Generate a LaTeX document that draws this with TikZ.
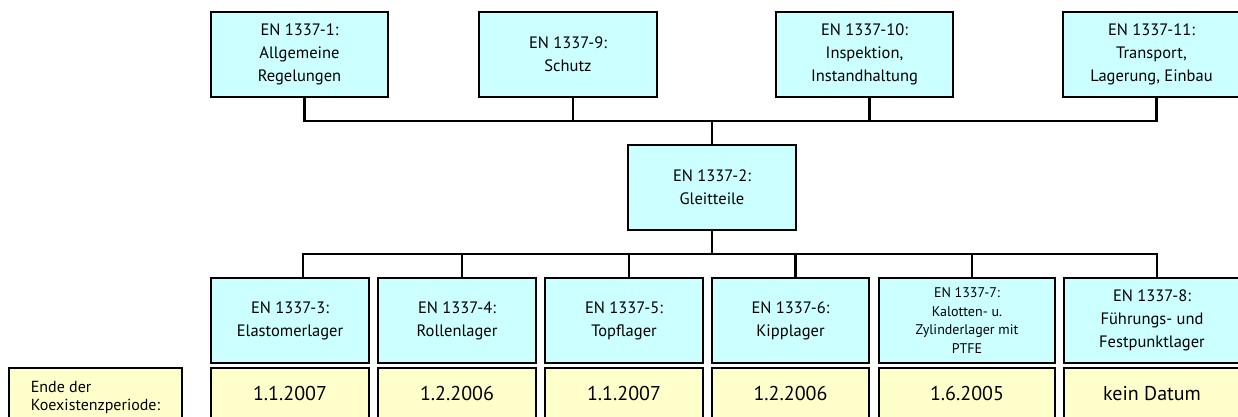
\documentclass[tikz,border=0pt]{standalone}
\usepackage{fontspec}
\setmainfont{PT Sans}

\definecolor{partblue}{HTML}{CCFFFF}
\definecolor{dateyellow}{HTML}{FFFFCC}

\tikzset{
  partbox/.style={draw=black,line width=2.8pt,fill=partblue,align=center,
    inner sep=0pt,minimum height=85pt,font=\fontsize{16.5}{23}\selectfont},
  datebox/.style={draw=black,line width=2.8pt,fill=dateyellow,inner sep=0pt,
    text height=32pt,text depth=26pt,font=\fontsize{20}{24}\selectfont},
  conn/.style={line width=2.8pt}
}

\begin{document}
\begin{tikzpicture}[x=1pt,y=-1pt]
        \useasboundingbox (0,0) rectangle (1238,417) ;
        % obere Reihe
        \node[partbox,minimum width=177pt] (p1) at (299.5,54.5)
          {EN 1337-1:\\Allgemeine\\Regelungen} ;
        \node[partbox,minimum width=178pt] (p9) at (568,54.5)
          {EN 1337-9:\\Schutz} ;
        \node[partbox,minimum width=177pt] (p10) at (864.5,54.5)
          {EN 1337-10:\\Inspektion,\\Instandhaltung} ;
        \node[partbox,minimum width=177pt] (p11) at (1151.5,54.5)
          {EN 1337-11:\\Transport,\\Lagerung, Einbau} ;
        % Mitte
        \node[partbox,minimum width=168pt] (p2) at (712,187.5)
          {EN 1337-2:\\Gleitteile} ;
        % untere Reihe
        \node[partbox,minimum width=158pt] (p3) at (290,320.5)
          {EN 1337-3:\\Elastomerlager} ;
        \node[partbox,minimum width=158pt] (p4) at (457,320.5)
          {EN 1337-4:\\Rollenlager} ;
        \node[partbox,minimum width=158pt] (p5) at (624,320.5)
          {EN 1337-5:\\Topflager} ;
        \node[partbox,minimum width=157pt] (p6) at (790.5,320.5)
          {EN 1337-6:\\Kipplager} ;
        \node[partbox,minimum width=176pt,font=\fontsize{14}{18.5}\selectfont]
          (p7) at (967,320.5)
          {EN 1337-7:\\Kalotten- u.\\Zylinderlager mit\\PTFE} ;
        \node[partbox,minimum width=176pt] (p8) at (1152,320.5)
          {EN 1337-8:\\Führungs- und\\Festpunktlager} ;
        % Koexistenzperiode
        \node[datebox,minimum width=173pt,align=left,text height=,text depth=,
          minimum height=58pt,font=\fontsize{16}{18}\selectfont]
          (ende) at (95.5,397) {Ende der\\Koexistenzperiode:} ;
        \node[datebox,minimum width=158pt] (d3) at (290,397) {1.1.2007} ;
        \node[datebox,minimum width=158pt] (d4) at (457,397) {1.2.2006} ;
        \node[datebox,minimum width=158pt] (d5) at (624,397) {1.1.2007} ;
        \node[datebox,minimum width=157pt] (d6) at (790.5,397) {1.2.2006} ;
        \node[datebox,minimum width=176pt] (d7) at (967,397) {1.6.2005} ;
        \node[datebox,minimum width=176pt] (d8) at (1152,397) {kein Datum} ;
        % Verbindungen
        \coordinate (topbus) at (712,121) ;
        \coordinate (lowbus) at (712,254) ;
        \draw[conn] ([xshift=5pt]p1.south) |- (topbus) -| ([xshift=5pt]p11.south) ;
        \draw[conn] ([xshift=5pt]p9.south) -- ([xshift=5pt]p9.south |- topbus) ;
        \draw[conn] ([xshift=5pt]p10.south) -- ([xshift=5pt]p10.south |- topbus) ;
        \draw[conn] (topbus) -- (p2.north) ;
        \draw[conn] (p2.south) -- (lowbus) ;
        \draw[conn] ([xshift=13pt]p3.north) |- (lowbus) -| ([xshift=5pt]p8.north) ;
        \foreach \n in {p4,p5,p6,p7}
          \draw[conn] ([xshift=5pt]\n.north) -- ([xshift=5pt]\n.north |- lowbus) ;
\end{tikzpicture}
\end{document}
